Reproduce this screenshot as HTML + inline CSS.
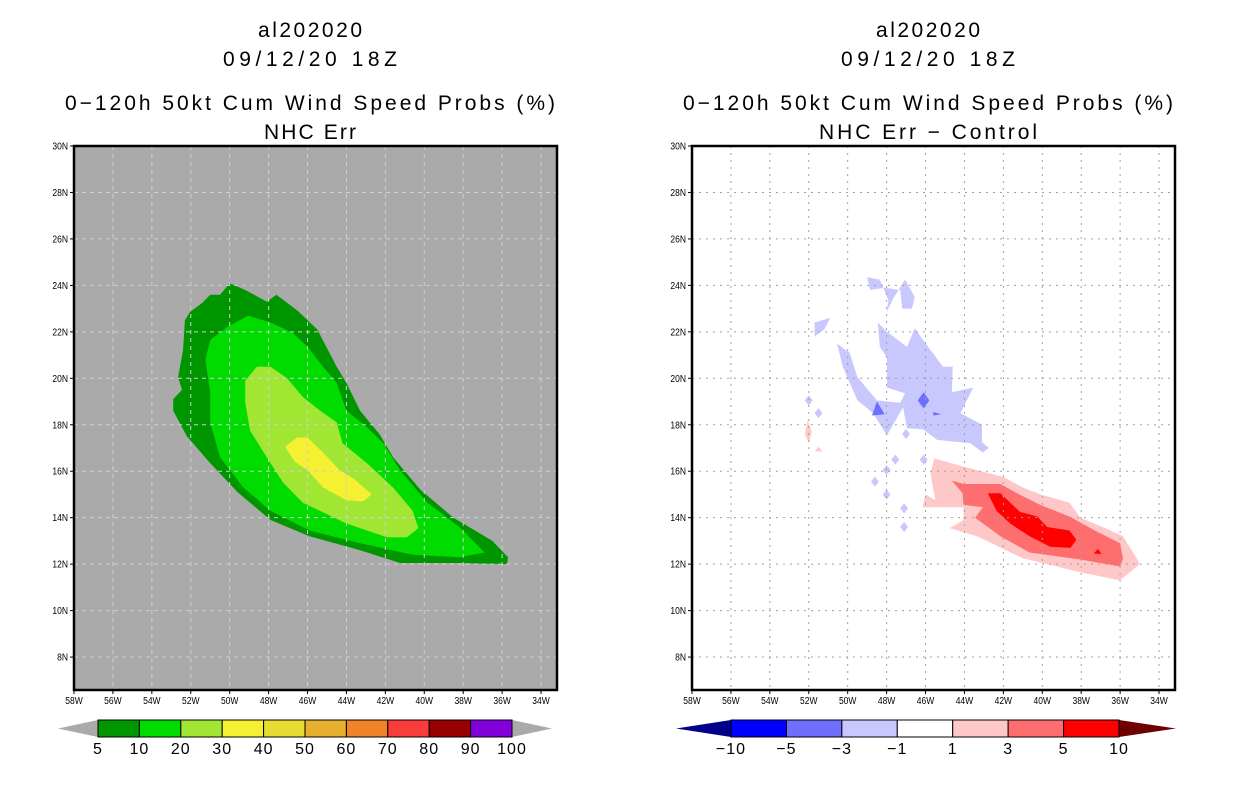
<!DOCTYPE html>
<html><head><meta charset="utf-8"><style>
html,body{margin:0;padding:0;background:#fff;}
svg{display:block;font-family:"Liberation Sans",sans-serif;}
</style></head><body>
<svg id="chart" width="1236" height="800" viewBox="0 0 1236 800" xmlns="http://www.w3.org/2000/svg"></svg>
<script>
// ---- data ----
const lonTicks = [58,56,54,52,50,48,46,44,42,40,38,36,34];
const latTicks = [30,28,26,24,22,20,18,16,14,12,10,8];
const leftLevels = ["5","10","20","30","40","50","60","70","80","90","100"];
const leftColors = ["#009600","#00dc00","#a0e632","#f5f032","#e6dc32","#e6af2d","#f08228","#fa3c3c","#960000","#8200dc"];
const rightLevels = ["\u221210","\u22125","\u22123","\u22121","1","3","5","10"];
const rightColors = ["#0000ff","#6e6eff","#c8c8ff","#ffffff","#ffc8c8","#ff6e6e","#ff0000"];
// contours: [lonW, latN]
const prob5 = [[50.0,24.1],[49.2,23.8],[48.1,23.3],[47.6,23.6],[46.5,22.9],[45.5,22.1],[45.0,21.3],[44.5,20.5],[44.0,19.8],[43.3,18.6],[42.3,17.6],[41.6,16.6],[40.2,15.2],[38.5,14.0],[36.5,13.0],[35.7,12.3],[35.75,12.0],[38.2,12.05],[41.25,12.05],[43.3,12.6],[45.9,13.2],[47.9,13.9],[49.6,15.1],[51.0,16.35],[52.2,17.5],[52.9,18.6],[52.9,19.1],[52.45,19.5],[52.65,20.05],[52.4,21.2],[52.3,22.5],[52.05,22.85],[51.4,23.25],[51.0,23.6],[50.5,23.6]];
const prob10 = [[49.05,22.7],[47.9,22.4],[46.75,21.95],[46.0,21.35],[45.2,20.5],[44.5,19.8],[44.0,18.6],[42.95,17.9],[42.1,17.2],[41.25,16.05],[39.85,14.65],[38.2,13.6],[36.9,12.5],[38.2,12.3],[40.6,12.4],[43.3,12.9],[45.9,13.45],[47.9,14.3],[49.3,15.3],[50.5,16.6],[51.0,18.1],[51.0,19.35],[51.25,20.8],[51.0,21.65],[50.15,22.2]];
const prob20 = [[48.6,20.5],[47.9,20.5],[47.05,20.0],[46.25,19.2],[45.35,18.6],[44.5,18.1],[44.2,17.2],[42.95,16.35],[41.6,15.3],[40.6,14.3],[40.3,13.55],[40.9,13.15],[41.9,13.15],[44.0,13.75],[46.25,14.65],[47.25,15.5],[48.1,16.6],[48.95,17.75],[49.2,18.95],[49.2,19.9]];
const prob30 = [[47.15,17.05],[46.55,17.45],[46.0,17.45],[45.2,16.8],[44.35,16.05],[43.65,15.7],[42.7,15.0],[43.15,14.7],[44.0,14.75],[45.2,15.3],[46.0,16.05],[46.65,16.4]];
const diffNeg1Main = [[48.45,22.4],[47.98,22.0],[46.95,21.35],[46.55,22.15],[46.13,21.65],[45.1,20.5],[44.6,20.5],[44.65,19.4],[43.55,19.6],[44.2,18.5],[43.1,18.0],[43.1,17.25],[42.75,17.0],[43.05,16.8],[43.7,17.2],[45.4,17.35],[46.13,17.8],[46.95,17.85],[47.15,18.75],[47.98,17.55],[48.7,18.5],[49.5,19.05],[50.25,20.5],[50.55,21.5],[49.9,21.1],[49.5,20.05],[48.5,19.05],[47.3,18.95],[47.05,19.35],[47.98,19.6],[47.98,20.9],[48.35,21.35]];
const diffNeg1Top = [[49.0,24.35],[48.35,24.25],[47.9,23.35],[48.0,22.85],[47.65,23.45],[47.05,24.25],[46.55,23.5],[46.7,23.0],[47.2,23.0],[47.3,23.8],[48.1,23.9],[48.85,23.8]];
const diffNeg1Small = [[51.7,22.4],[50.9,22.6],[51.2,22.1],[51.7,21.8]];
const diffNeg1Dots = [[52.0,19.05],[51.5,18.5],[47.0,17.6],[46.1,16.5],[47.55,16.5],[48.0,16.05],[48.6,15.55],[48.0,15.0],[47.1,14.4],[47.1,13.6]];
const diffNeg3A = [[48.5,19.0],[48.75,18.4],[48.1,18.45]];
const diffNeg3B = [[46.1,19.4],[45.8,19.05],[46.1,18.7],[46.4,19.05]];
const diffNeg3C = [[45.6,18.55],[45.2,18.45],[45.6,18.4]];
const diffPos1 = [[45.55,16.55],[44.05,16.2],[42.0,15.75],[41.0,15.3],[40.1,15.0],[38.6,14.65],[38.05,14.0],[36.9,13.6],[35.85,13.2],[35.15,12.25],[35.0,12.0],[36.0,11.3],[38.05,11.65],[41.0,12.25],[43.35,13.2],[44.75,13.55],[44.05,13.9],[44.05,14.45],[46.15,14.45],[46.0,15.0],[45.5,14.75],[45.75,15.9]];
const diffPos1Left = [[52.05,18.2],[51.85,17.7],[52.0,17.2],[52.2,17.6]];
const diffPos1Dot = [[51.5,17.05],[51.3,16.85],[51.7,16.85]];
const diffPos3 = [[44.65,15.6],[44.05,15.45],[42.15,15.45],[41.3,15.05],[40.1,14.55],[38.6,14.05],[37.3,13.45],[36.0,12.9],[35.85,12.25],[36.0,11.9],[38.05,12.2],[40.65,12.5],[42.15,13.2],[43.45,14.0],[43.05,14.45],[44.05,14.55],[44.1,15.05]];
const diffPos5 = [[42.8,15.05],[42.15,15.05],[41.15,14.25],[40.25,14.05],[39.75,13.6],[38.6,13.45],[38.25,13.05],[38.55,12.7],[39.6,12.75],[40.65,13.2],[41.65,13.75],[42.35,14.3]];
const diffPos5Dot = [[37.15,12.65],[36.95,12.45],[37.35,12.45]];

const NS="http://www.w3.org/2000/svg";
const svg=document.getElementById('chart');
function mk(tag,attrs,parent){const e=document.createElementNS(NS,tag);for(const k in attrs)e.setAttribute(k,attrs[k]);(parent||svg).appendChild(e);return e;}
const TOP=146,BOT=690,W=483;
function xS(x0,lon){return x0+(58-lon)*19.46;}
function yS(lat){return TOP+(30-lat)*23.23;}
function poly(x0,pts,fill,name,g){
  const d=pts.map(p=>xS(x0,p[0]).toFixed(1)+','+yS(p[1]).toFixed(1)).join(' ');
  const p=mk('polygon',{points:d,fill:fill},g);
  
  
}
function dot(x0,pt,fill,g){
  const cx=xS(x0,pt[0]),cy=yS(pt[1]);
  const p=mk('polygon',{points:`${cx},${cy-5} ${cx+4},${cy} ${cx},${cy+5} ${cx-4},${cy}`,fill:fill},g);
  
  
}
function titles(cx,line4,len4){
  const lines=[["al202020",37,104],["09/12/20 18Z",66,174],["0\u2212120h 50kt Cum Wind Speed Probs (%)",110,490],[line4,139,len4]];
  lines.forEach((l,i)=>{
    const t=mk('text',{x:cx,y:l[1],'text-anchor':'middle','font-size':21,fill:'#000',textLength:l[2],lengthAdjust:'spacing'});
    t.textContent=l[0];
    
    
  });
}
function panel(x0,bg,name){
  const g=mk('g',{});
  
  
  mk('rect',{x:x0,y:TOP,width:W,height:BOT-TOP,fill:bg},g);
  return g;
}
function gridAxes(x0,g,gridColor,dash){
  lonTicks.forEach(l=>{
    const x=xS(x0,l);
    if(l!==58){const ln=mk('line',{x1:x,y1:TOP,x2:x,y2:BOT,stroke:gridColor,'stroke-width':1,'stroke-dasharray':dash},g);
    
    }
    mk('line',{x1:x,y1:BOT,x2:x,y2:BOT+4,stroke:'#000'},g);
    const t=mk('text',{x:x,y:BOT+14,'text-anchor':'middle','font-size':10,transform:`translate(${x},0) scale(0.85,1) translate(${-x},0)`},g);
    t.textContent=l+'W';
    
    
  });
  latTicks.forEach(l=>{
    const y=yS(l);
    if(l!==30){const ln=mk('line',{x1:x0,y1:y,x2:x0+W,y2:y,stroke:gridColor,'stroke-width':1,'stroke-dasharray':dash},g);
    
    }
    mk('line',{x1:x0-4,y1:y,x2:x0,y2:y,stroke:'#000'},g);
    const t=mk('text',{x:x0-6,y:y+3.5,'text-anchor':'end','font-size':10,transform:`translate(${x0-6},0) scale(0.85,1) translate(${-(x0-6)},0)`},g);
    t.textContent=l+'N';
    
    
  });
  const fr=mk('rect',{x:x0,y:TOP,width:W,height:BOT-TOP,fill:'none',stroke:'#000','stroke-width':2.5},g);
  
  
}
function colorbar(x1,x2,tL,tR,colors,labels,leftTri,rightTri,name){
  const g=mk('g',{});
  
  
  const y1=720,y2=737,ym=(y1+y2)/2,bw=(x2-x1)/colors.length;
  mk('polygon',{points:`${tL},${ym} ${x1},${y1} ${x1},${y2}`,fill:leftTri},g);
  mk('polygon',{points:`${tR},${ym} ${x2},${y1} ${x2},${y2}`,fill:rightTri},g);
  colors.forEach((c,i)=>{
    const r=mk('rect',{x:x1+i*bw,y:y1,width:bw,height:y2-y1,fill:c,stroke:'#000','stroke-width':1},g);
    
    
  });
  labels.forEach((l,i)=>{
    const t=mk('text',{x:x1+i*bw,y:754,'text-anchor':'middle','font-size':16,'letter-spacing':'1'},g);
    t.textContent=l;
    
    
  });
}
// left panel
const L=74;
const gl=panel(L,'#aaaaaa','left-map-panel');
poly(L,prob5,leftColors[0],'contour-5pct',gl);
poly(L,prob10,leftColors[1],'contour-10pct',gl);
poly(L,prob20,leftColors[2],'contour-20pct',gl);
poly(L,prob30,leftColors[3],'contour-30pct',gl);
gridAxes(L,gl,'#d0d0d0','4,4');
titles(310,'NHC Err',92);
colorbar(98,512,58,552,leftColors,leftLevels,'#aaaaaa','#aaaaaa','left-colorbar');
// right panel
const R=692;
const gr=panel(R,'#ffffff','right-map-panel');
poly(R,diffNeg1Main,rightColors[2],'contour-neg1-main',gr);
poly(R,diffNeg1Top,rightColors[2],'contour-neg1-north',gr);
poly(R,diffNeg1Small,rightColors[2],'contour-neg1-small',gr);
diffNeg1Dots.forEach(p=>dot(R,p,rightColors[2],gr));
poly(R,diffNeg3A,rightColors[1],'contour-neg3-a',gr);
poly(R,diffNeg3B,rightColors[1],'contour-neg3-b',gr);
poly(R,diffNeg3C,rightColors[1],'contour-neg3-c',gr);
poly(R,diffPos1,rightColors[4],'contour-pos1',gr);
poly(R,diffPos1Left,rightColors[4],'contour-pos1-west',gr);
poly(R,diffPos1Dot,rightColors[4],'contour-pos1-dot',gr);
poly(R,diffPos3,rightColors[5],'contour-pos3',gr);
poly(R,diffPos5,rightColors[6],'contour-pos5',gr);
poly(R,diffPos5Dot,rightColors[6],'contour-pos5-dot',gr);
gridAxes(R,gr,'#a0a0a0','2,5');
titles(928,'NHC Err \u2212 Control',218);
colorbar(731,1119,676,1176,rightColors,rightLevels,'#00008b','#6e0000','right-colorbar');
</script>
</body></html>
